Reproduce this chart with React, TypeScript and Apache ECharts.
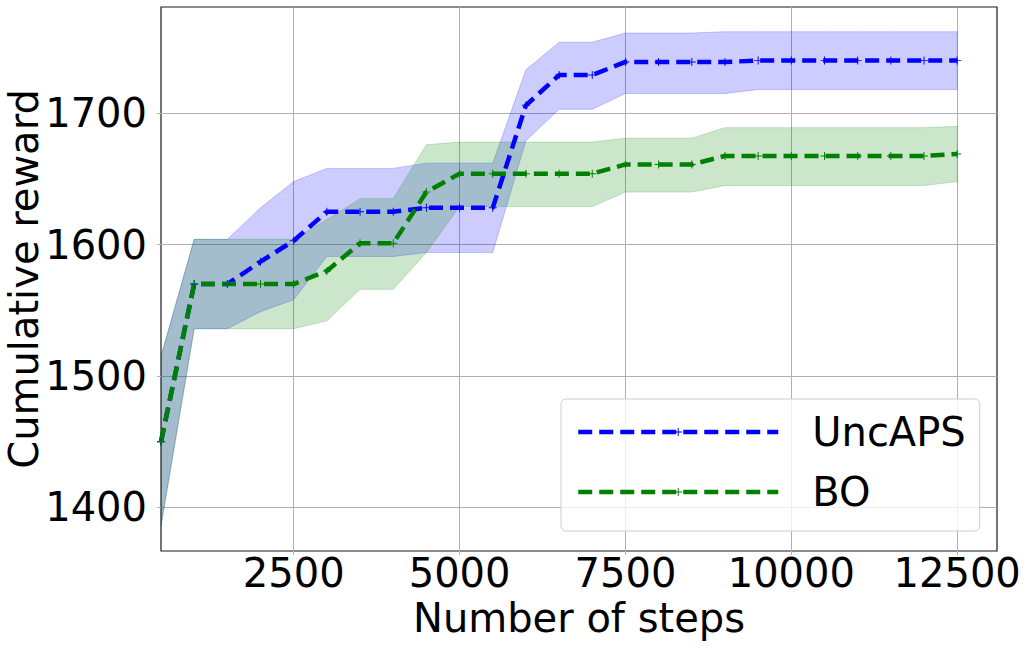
import React, { useEffect, useRef } from "react";
import * as echarts from "echarts";

const steps = [500, 1000, 1500, 2000, 2500, 3000, 3500, 4000, 4500, 5000, 5500, 6000, 6500, 7000, 7500, 8000, 8500, 9000, 9500, 10000, 10500, 11000, 11500, 12000, 12500];

const uncMean = [1450, 1570, 1570, 1587, 1603, 1625, 1625, 1625, 1628, 1628, 1628, 1706, 1729, 1729, 1739, 1739, 1739, 1739, 1740, 1740, 1740, 1740, 1740, 1740, 1740];
const uncLower = [1386, 1536, 1536, 1549, 1558, 1591, 1591, 1591, 1594, 1594, 1594, 1679, 1703, 1703, 1715, 1715, 1715, 1715, 1718, 1718, 1718, 1718, 1718, 1718, 1718];
const uncUpper = [1515, 1604, 1604, 1628, 1648, 1658, 1658, 1658, 1662, 1662, 1662, 1733, 1754, 1754, 1761, 1761, 1761, 1762, 1762, 1762, 1762, 1762, 1762, 1762, 1762];

const boMean = [1450, 1570, 1570, 1570, 1570, 1580, 1601, 1601, 1640, 1654, 1654, 1654, 1654, 1654, 1661, 1661, 1661, 1667.5, 1667.5, 1667.5, 1667.5, 1667.5, 1667.5, 1667.5, 1669];
const boLower = [1386, 1536, 1536, 1536, 1536, 1542, 1566, 1566, 1594, 1629, 1629, 1629, 1629, 1629, 1640, 1640, 1640, 1645, 1645, 1645, 1645, 1645, 1645, 1645, 1648];
const boUpper = [1515, 1604, 1604, 1604, 1604, 1619, 1635, 1635, 1676, 1678, 1678, 1678, 1678, 1678, 1681, 1681, 1681, 1689, 1689, 1689, 1689, 1689, 1689, 1689, 1690];

const xTicks = [2500, 5000, 7500, 10000, 12500];
const yTicks = [1400, 1500, 1600, 1700];

const seriesNames = ["UncAPS", "BO"];

const FONT = "DejaVu Sans";
const PLUS = "path://M0,4.4H10V5.6H0Z M4.4,0H5.6V10H4.4Z";
const DASH = [14, 7];
const LW = 4.5;

const pairs = (ys: number[]) => steps.map((x, i) => [x, ys[i]]);

function band(name: string, lo: number[], hi: number[], color: string) {
  return {
    name,
    type: "custom",
    silent: true,
    clip: true,
    data: steps.map((x, i) => [x, lo[i], hi[i]]),
    encode: { x: 0, y: [1, 2] },
    renderItem: (params: any, api: any) => {
      if (params.dataIndex !== 0) return null;
      const top = steps.map((x, i) => api.coord([x, hi[i]]));
      const bottom = steps.map((x, i) => api.coord([x, lo[i]])).reverse();
      return {
        type: "polygon",
        shape: { points: top.concat(bottom) },
        style: { fill: color, stroke: color, lineWidth: 1 },
      };
    },
  };
}

function meanLine(name: string, ys: number[], color: string) {
  return {
    name,
    type: "line",
    data: pairs(ys),
    symbol: PLUS,
    symbolSize: 8,
    showSymbol: true,
    itemStyle: { color },
    lineStyle: { color, width: LW, type: DASH },
  };
}

export default function App() {
  const ref = useRef<HTMLDivElement>(null);
  useEffect(() => {
    document.body.style.margin = "0";
    const chart = echarts.init(ref.current!, undefined, { renderer: "svg" });
    chart.setOption({
      animation: false,
      backgroundColor: "#ffffff",
      grid: {
        left: 161,
        right: 31,
        top: 7,
        bottom: 98,
        outerBoundsMode: "none",
        containLabel: false,
        show: true,
        borderColor: "#1a1a1a",
        borderWidth: 1.2,
        backgroundColor: "transparent",
      },
      legend: {
        orient: "vertical",
        left: 561,
        top: 399,
        data: seriesNames,
        itemWidth: 200,
        itemHeight: 10,
        itemGap: 20,
        padding: [13, 14, 19, 15],
        backgroundColor: "rgba(255,255,255,0.8)",
        borderColor: "#cccccc",
        borderWidth: 1,
        borderRadius: 5,
        lineStyle: { width: LW, type: DASH },
        textStyle: { fontSize: 40, fontFamily: FONT, color: "#000", padding: [0, 0, 0, 29], lineHeight: 40 },
      },
      xAxis: {
        type: "value",
        min: 500,
        max: 13100,
        name: "Number of steps",
        nameLocation: "middle",
        nameGap: 47,
        nameMoveOverlap: false,
        nameTextStyle: { fontSize: 40, fontFamily: FONT, color: "#000" },
        axisLine: { show: false },
        axisTick: { show: true, length: 4, lineStyle: { color: "#b0b0b0" }, customValues: xTicks },
        axisLabel: { fontSize: 40, fontFamily: FONT, color: "#000", margin: 2, lineHeight: 40, customValues: xTicks, formatter: (v: number) => String(v) },
        splitLine: { show: true, lineStyle: { color: "#b0b0b0", width: 1 } },
      },
      yAxis: {
        type: "value",
        min: 1366.9,
        max: 1780.8,
        name: "Cumulative reward",
        nameLocation: "middle",
        nameGap: 117,
        nameMoveOverlap: false,
        nameTextStyle: { fontSize: 40, fontFamily: FONT, color: "#000" },
        axisLine: { show: false },
        axisTick: { show: true, length: 4, lineStyle: { color: "#b0b0b0" }, customValues: yTicks },
        axisLabel: { fontSize: 40, fontFamily: FONT, color: "#000", margin: 14, customValues: yTicks, formatter: (v: number) => String(v) },
        splitLine: { show: true, lineStyle: { color: "#b0b0b0", width: 1 } },
      },
      series: [
        band("UncAPS band", uncLower, uncUpper, "rgba(0,0,255,0.2)"),
        band("BO band", boLower, boUpper, "rgba(0,128,0,0.2)"),
        meanLine(seriesNames[0], uncMean, "#0000ff"),
        meanLine(seriesNames[1], boMean, "#008000"),
      ],
    });
    return () => chart.dispose();
  }, []);
  return <div ref={ref} style={{ position: "absolute", left: 0, top: 0, width: 1028, height: 649 }} />;
}
